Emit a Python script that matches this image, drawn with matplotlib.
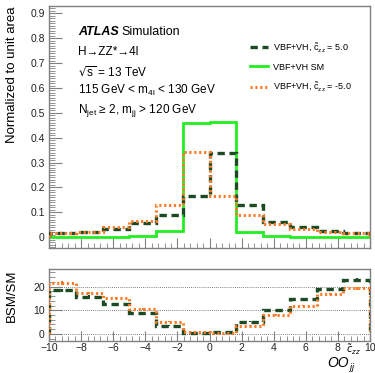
import numpy as np
import matplotlib
matplotlib.use("Agg")
from matplotlib import pyplot as plt
from matplotlib.lines import Line2D
from matplotlib.ticker import MultipleLocator

plt.rcParams["font.family"] = ["Liberation Sans", "DejaVu Sans"]
plt.rcParams["mathtext.default"] = "regular"

# binning of OO_jj
edges = np.linspace(-10, 10, 13)

# normalized distributions
sm = [0.001, 0.001, 0.002, 0.005, 0.024, 0.461, 0.465, 0.021, 0.004, 0.002, 0.001, 0.001]
bsm_p5 = [0.015, 0.021, 0.032, 0.055, 0.089, 0.165, 0.340, 0.129, 0.062, 0.039, 0.025, 0.017]
bsm_m5 = [0.017, 0.022, 0.039, 0.065, 0.129, 0.342, 0.165, 0.089, 0.051, 0.032, 0.021, 0.015]

# BSM/SM ratios
ratio_p5 = [18.5, 15.8, 12.8, 8.9, 3.5, 0.36, 0.73, 5.2, 9.9, 14.6, 18.8, 23.0]
ratio_m5 = [21.6, 17.2, 15.1, 10.5, 5.2, 0.74, 0.35, 3.5, 8.0, 12.0, 16.9, 19.3]
err_p5 = [0.6, 0.5, 0.4, 0.3, 0.2, 0.05, 0.05, 0.2, 0.3, 0.4, 0.6, 0.8]
err_m5 = [0.7, 0.5, 0.4, 0.3, 0.2, 0.05, 0.05, 0.2, 0.3, 0.4, 0.5, 0.6]

c_dg = "#1c4a24"
c_sm = "#22ee22"
c_or = "#ff7a22"
frame_c = "#808080"

fig = plt.figure(figsize=(3.75, 3.73), dpi=100)
ax = fig.add_axes([0.1307, 0.335, 0.856, 0.649])
axr = fig.add_axes([0.1307, 0.086, 0.856, 0.193])

ax.stairs(sm, edges, baseline=0, color=c_sm, lw=2.0, zorder=2)
ax.stairs(bsm_p5, edges, baseline=0, color=c_dg, lw=2.4, ls=(0, (2.2, 1.4)), zorder=3)
ax.stairs(bsm_m5, edges, baseline=0, color=c_or, lw=2.2, ls=(0, (0.7, 0.9)), zorder=4)

ax.set_xlim(-10, 10)
ax.set_ylim(-0.044, 0.93)
ax.set_yticks(np.arange(0, 1.0, 0.1))
ax.set_yticklabels(["0"] + ["%.1f" % v for v in np.arange(0.1, 1.0, 0.1)])
ax.yaxis.set_minor_locator(MultipleLocator(0.01))
ax.set_xticks(np.arange(-10, 11, 2))
ax.xaxis.set_minor_locator(MultipleLocator(0.4))
ax.tick_params(axis="x", labelbottom=False)

centers = 0.5 * (edges[1:] + edges[:-1])
axr.stairs(ratio_p5, edges, baseline=0, color=c_dg, lw=2.4, ls=(0, (2.2, 1.4)), zorder=3)
axr.stairs(ratio_m5, edges, baseline=0, color=c_or, lw=2.2, ls=(0, (0.7, 0.9)), zorder=4)
axr.errorbar(centers, ratio_p5, yerr=err_p5, fmt="none", ecolor=c_dg, elinewidth=1.5, zorder=3)
axr.errorbar(centers, ratio_m5, yerr=err_m5, fmt="none", ecolor=c_or, elinewidth=1.5, zorder=4)
for yv in [0, 10, 20]:
    axr.axhline(yv, color="#555555", lw=0.6, ls=(0, (1, 1.5)), zorder=1)
axr.set_xlim(-10, 10)
axr.set_ylim(-3, 27.5)
axr.set_yticks([0, 10, 20])
axr.yaxis.set_minor_locator(MultipleLocator(2))
axr.set_xticks(np.arange(-10, 11, 2))
axr.set_xticklabels(["\u221210", "\u22128", "\u22126", "\u22124", "\u22122", "0", "2", "4", "6", "8", "10"])
axr.xaxis.set_minor_locator(MultipleLocator(0.4))

for a in (ax, axr):
    for s in a.spines.values():
        s.set_color(frame_c)
        s.set_linewidth(1.0)
    a.tick_params(which="both", direction="in", colors=frame_c, labelcolor="#222222",
                  labelsize=7.5, top=False, right=False)
    a.tick_params(axis="x", which="major", length=7, pad=1.5)
    a.tick_params(axis="x", which="minor", length=3.5)
    a.tick_params(axis="y", which="major", length=9, pad=3)
    a.tick_params(axis="y", which="minor", length=4.5)

# labels
fig.text(12 / 375, 1 - 75 / 373, "Normalized to unit area", rotation=90,
         ha="center", va="center", fontsize=9.5)
fig.text(12 / 375, 1 - 296 / 373, "BSM/SM", rotation=90,
         ha="center", va="center", fontsize=9.5)
# x label OO_jj^{c~zz}, pieced together to keep it clear of the tick labels
fig.text(349 / 375, 1 - 367 / 373, "OO", fontstyle="italic", fontsize=10,
         ha="right", va="baseline")
fig.text(346 / 375, 1 - 353 / 373, r"$\tilde{\mathit{c}}_{\mathit{zz}}$", fontsize=7,
         ha="left", va="baseline")
fig.text(350 / 375, 1 - 370 / 373, "jj", fontstyle="italic", fontsize=6.5,
         ha="left", va="baseline")

# ATLAS annotations
tx = 0.09
ax.text(tx, 0.893, "ATLAS", transform=ax.transAxes, fontsize=9, fontweight="bold",
        fontstyle="italic", va="center")
ax.text(tx + 0.137, 0.893, "Simulation", transform=ax.transAxes, fontsize=9, va="center")
lines = ["H\u2192ZZ*\u21924l",
         r"$\sqrt{s}$ = 13 TeV",
         r"115 GeV < m$_{4l}$ < 130 GeV",
         "N$_{jet}$ \u2265 2, m$_{jj}$ > 120 GeV"]
for t, yy in zip(lines, [0.81, 0.727, 0.653, 0.57]):
    ax.text(tx, yy, t, transform=ax.transAxes, fontsize=8.5, va="center")

handles = [Line2D([], [], color=c_dg, lw=2.4, ls=(0, (2.2, 1.4))),
           Line2D([], [], color=c_sm, lw=2.0),
           Line2D([], [], color=c_or, lw=2.2, ls=(0, (0.7, 0.9)))]
labels = [r"VBF+VH, $\tilde{c}_{zz}$ = 5.0", "VBF+VH SM", r"VBF+VH, $\tilde{c}_{zz}$ = -5.0"]
ax.legend(handles, labels, loc="upper left", bbox_to_anchor=(0.6, 0.89), frameon=False,
          fontsize=6.5, handlelength=2.0, handletextpad=0.6, labelspacing=1.0)

fig.savefig("out.png", dpi=100)
